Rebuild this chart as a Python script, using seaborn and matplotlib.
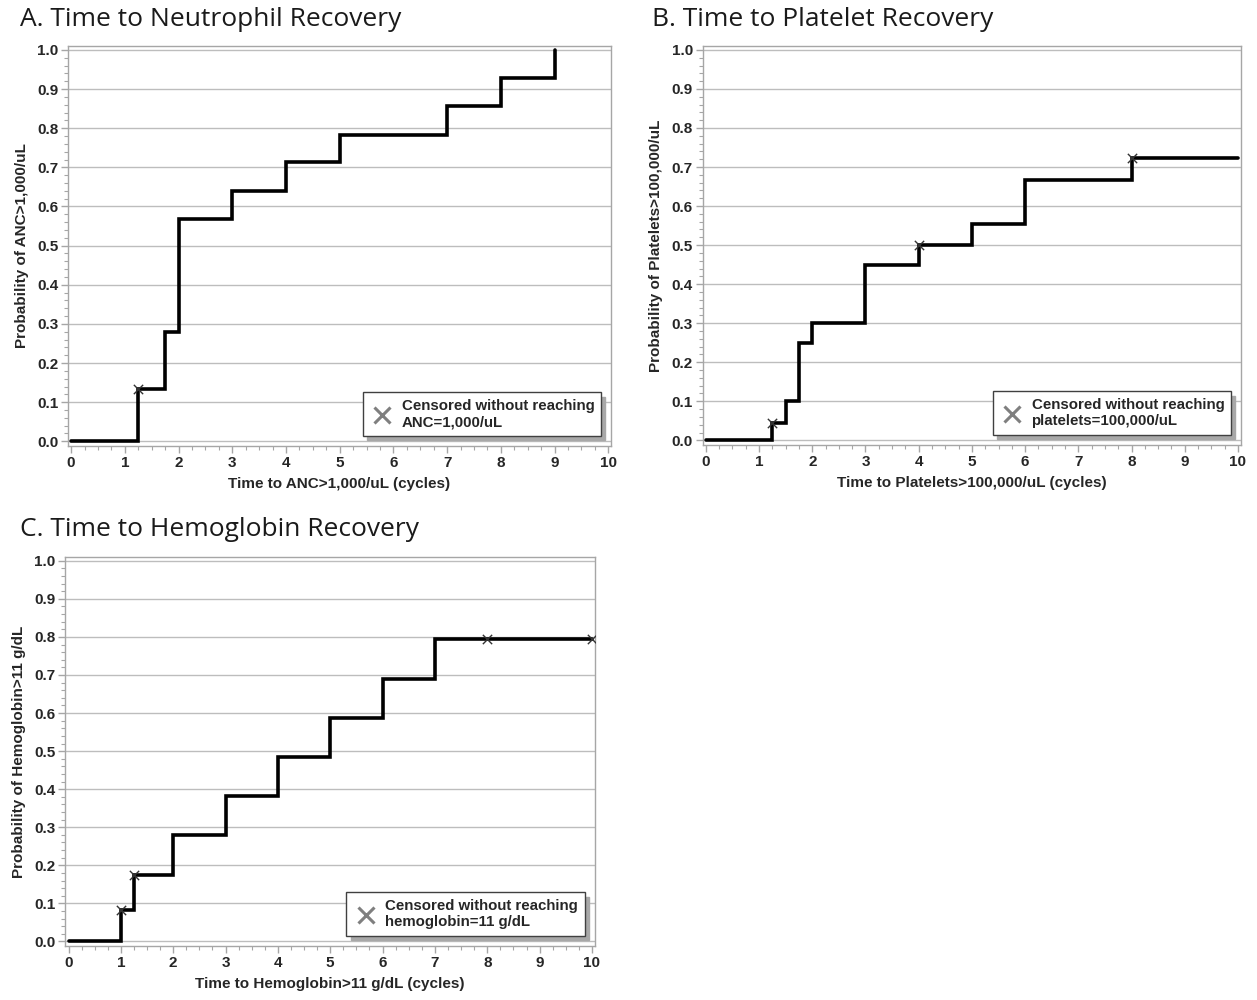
import matplotlib
matplotlib.use("Agg")
import matplotlib.pyplot as plt
from matplotlib.lines import Line2D
from matplotlib.ticker import MultipleLocator
import seaborn as sns
import pandas as pd

sns.set_theme(style="white")
plt.rcParams['font.family'] = ['Liberation Sans', 'DejaVu Sans']

# Panel A: neutrophil recovery
a_time = [0, 1.25, 1.75, 2, 3, 4, 5, 7, 8, 9]
a_prob = [0.0, 0.133, 0.28, 0.567, 0.64, 0.713, 0.783, 0.856, 0.928, 1.0]
a_cens_time = [1.25]
a_cens_prob = [0.133]
a_end = 9

# Panel B: platelet recovery
b_time = [0, 1.25, 1.5, 1.75, 2, 3, 4, 5, 6, 8]
b_prob = [0.0, 0.045, 0.1, 0.25, 0.3, 0.45, 0.5, 0.555, 0.667, 0.722]
b_cens_time = [1.25, 4, 8]
b_cens_prob = [0.045, 0.5, 0.722]
b_end = 10

# Panel C: hemoglobin recovery
c_time = [0, 1, 1.25, 2, 3, 4, 5, 6, 7]
c_prob = [0.0, 0.083, 0.175, 0.28, 0.383, 0.485, 0.588, 0.69, 0.795]
c_cens_time = [1, 1.25, 8, 10]
c_cens_prob = [0.083, 0.175, 0.795, 0.795]
c_end = 10

x_ticks = list(range(0, 11))
y_ticks = [round(i * 0.1, 1) for i in range(11)]

panels = [
    dict(title="A. Time to Neutrophil Recovery", t=a_time, p=a_prob, ct=a_cens_time, cp=a_cens_prob, end=a_end,
         xlabel="Time to ANC>1,000/uL (cycles)", ylabel="Probability of ANC>1,000/uL",
         leg="Censored without reaching\nANC=1,000/uL",
         pos=[0.054, 0.554, 0.432, 0.400], tpos=(0.016, 0.980)),
    dict(title="B. Time to Platelet Recovery", t=b_time, p=b_prob, ct=b_cens_time, cp=b_cens_prob, end=b_end,
         xlabel="Time to Platelets>100,000/uL (cycles)", ylabel="Probability of Platelets>100,000/uL",
         leg="Censored without reaching\nplatelets=100,000/uL",
         pos=[0.559, 0.555, 0.428, 0.399], tpos=(0.519, 0.980)),
    dict(title="C. Time to Hemoglobin Recovery", t=c_time, p=c_prob, ct=c_cens_time, cp=c_cens_prob, end=c_end,
         xlabel="Time to Hemoglobin>11 g/dL (cycles)", ylabel="Probability of Hemoglobin>11 g/dL",
         leg="Censored without reaching\nhemoglobin=11 g/dL",
         pos=[0.052, 0.054, 0.421, 0.389], tpos=(0.016, 0.470)),
]

fig = plt.figure(figsize=(12.57, 10), dpi=100)
frame_col = "#a6a6a6"

for pn in panels:
    ax = fig.add_axes(pn["pos"])
    df = pd.DataFrame({"time": pn["t"] + [pn["end"]], "prob": pn["p"] + [pn["p"][-1]]})
    sns.lineplot(data=df, x="time", y="prob", drawstyle="steps-post", color="black",
                 linewidth=2.6, ax=ax, solid_joinstyle="miter")
    cdf = pd.DataFrame({"time": pn["ct"], "prob": pn["cp"]})
    sns.scatterplot(data=cdf, x="time", y="prob", marker="x", color="#333333", s=45,
                    linewidth=1.0, ax=ax, zorder=5)
    ax.set_xlim(-0.06, 10.05)
    ax.set_ylim(-0.012, 1.01)
    ax.set_xticks(x_ticks)
    ax.set_yticks(y_ticks)
    ax.set_xticklabels([str(v) for v in x_ticks], fontweight="bold", fontsize=11)
    ax.set_yticklabels([f"{v:.1f}" for v in y_ticks], fontweight="bold", fontsize=11)
    ax.xaxis.set_minor_locator(MultipleLocator(0.25))
    ax.yaxis.set_minor_locator(MultipleLocator(0.02))
    ax.tick_params(which="major", direction="out", length=5, width=1, color=frame_col,
                   left=True, bottom=True, pad=2)
    ax.tick_params(which="minor", direction="out", length=3, width=0.8, color=frame_col,
                   left=True, bottom=True)
    for s in ax.spines.values():
        s.set_color(frame_col)
        s.set_linewidth(1.0)
    ax.yaxis.grid(True, color="#bdbdbd", linewidth=1.0)
    ax.xaxis.grid(False)
    ax.set_axisbelow(True)
    ax.set_xlabel(pn["xlabel"], fontweight="bold", fontsize=11, labelpad=5)
    ax.set_ylabel(pn["ylabel"], fontweight="bold", fontsize=11, labelpad=6)
    handle = Line2D([], [], marker="x", color="#7f7f7f", linestyle="", markersize=11, markeredgewidth=2.2)
    leg = ax.legend([handle], [pn["leg"]], loc="lower right", bbox_to_anchor=(0.996, 0.006),
                    frameon=True, fancybox=False, shadow={"color": "#a8a8a8", "alpha": 1.0, "ox": 3, "oy": -3},
                    edgecolor="#404040", framealpha=1,
                    prop={"weight": "bold", "size": 10.8}, handletextpad=0.45, borderpad=0.45,
                    handlelength=1.7)
    leg.get_frame().set_linewidth(1.0)
    fig.text(pn["tpos"][0], pn["tpos"][1], pn["title"], fontsize=19, family=["Open Sans", "DejaVu Sans"],
             ha="left", va="center", color="#1a1a1a")

fig.savefig("out.png", dpi=100)
